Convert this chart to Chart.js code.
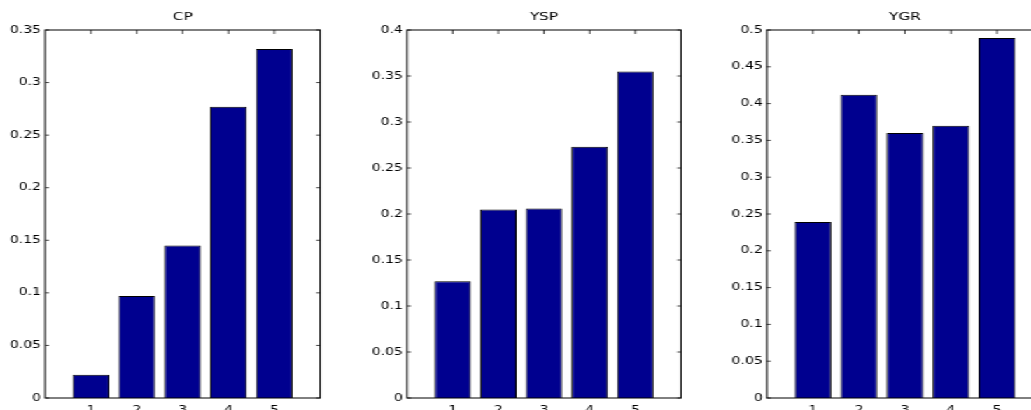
<!DOCTYPE html>
<html>
<head>
<meta charset="utf-8">
<script src="https://cdn.jsdelivr.net/npm/chart.js@4"></script>
<style>
  html, body { margin: 0; padding: 0; background: #fff; overflow: hidden; width: 1031px; height: 410px; }
  #stage { position: absolute; left: 0; top: 0; width: 800px; height: 440px; transform: scaleX(1.4); transform-origin: 0 0; }
  .panel { position: absolute; top: 0; height: 440px; }
</style>
</head>
<body>
<div id="stage"></div>
<script>
const xTicks = [1, 2, 3, 4, 5];
const titles = ["CP", "YSP", "YGR"];
const cpValues = [0.022, 0.097, 0.145, 0.277, 0.332];
const yspValues = [0.127, 0.205, 0.206, 0.273, 0.355];
const ygrValues = [0.239, 0.412, 0.36, 0.37, 0.489];
const yMaxes = [0.35, 0.4, 0.5];
const yStep = 0.05;

// the original figure is stretched sideways, so the stage is scaled in x
const S = 1.4;
const boxes = [[45, 320], [407, 681], [767, 1043]]; // plot box edges on screen
const TOP = 30, BOTTOM = 398, H = 440;
const font = { family: "DejaVu Sans", size: 10 };

const frame = {
  id: "frame",
  beforeDatasetsDraw(chart) {
    const { ctx, chartArea: a, scales: { x, y } } = chart;
    ctx.save();
    ctx.strokeStyle = "#444";
    ctx.lineWidth = 1;
    ctx.beginPath();
    x.ticks.forEach(t => {
      const px = x.getPixelForValue(t.value);
      ctx.moveTo(px, a.top); ctx.lineTo(px, a.top + 4);
      ctx.moveTo(px, a.bottom); ctx.lineTo(px, a.bottom - 4);
    });
    y.ticks.forEach(t => {
      const py = y.getPixelForValue(t.value);
      ctx.moveTo(a.left, py); ctx.lineTo(a.left + 2.8, py);
      ctx.moveTo(a.right, py); ctx.lineTo(a.right - 2.8, py);
    });
    ctx.stroke();
    ctx.restore();
  },
  afterDatasetsDraw(chart, args, opts) {
    const { ctx, chartArea: a } = chart;
    ctx.save();
    ctx.strokeStyle = "#000";
    ctx.lineWidth = 1;
    ctx.strokeRect(a.left, a.top, a.right - a.left, a.bottom - a.top);
    ctx.fillStyle = "#000";
    ctx.font = '11px "DejaVu Sans"';
    ctx.textAlign = "center";
    ctx.textBaseline = "middle";
    ctx.fillText(opts.title, (a.left + a.right) / 2, 17.5);
    ctx.restore();
  }
};

const stage = document.getElementById("stage");
const series = [cpValues, yspValues, ygrValues];

series.forEach((vals, i) => {
  const l = boxes[i][0] / S, r = boxes[i][1] / S;
  const cLeft = Math.floor(l - 30);
  const yw = l - cLeft;
  const cWidth = Math.ceil(r - cLeft + 2);
  const padR = cWidth - (r - cLeft);

  const div = document.createElement("div");
  div.className = "panel";
  div.style.left = cLeft + "px";
  div.style.width = cWidth + "px";
  const canvas = document.createElement("canvas");
  div.appendChild(canvas);
  stage.appendChild(div);

  new Chart(canvas, {
    type: "bar",
    data: {
      datasets: [{
        data: xTicks.map((x, j) => ({ x: x, y: vals[j] })),
        backgroundColor: "#00008F",
        borderColor: "#000",
        borderWidth: 1,
        barPercentage: 0.8,
        categoryPercentage: 1
      }]
    },
    options: {
      responsive: true,
      maintainAspectRatio: false,
      animation: false,
      layout: { padding: { top: TOP, right: padR, bottom: 0, left: 0 } },
      plugins: {
        legend: { display: false },
        tooltip: { enabled: false },
        frame: { title: titles[i] }
      },
      scales: {
        x: {
          type: "linear",
          min: 0,
          max: 6,
          offset: false,
          grid: { display: false, drawTicks: false, offset: false },
          border: { display: false },
          afterBuildTicks: s => { s.ticks = xTicks.map(v => ({ value: v })); },
          afterFit: s => { s.height = H - BOTTOM; },
          ticks: { padding: 6, color: "#000", font: font }
        },
        y: {
          min: 0,
          max: yMaxes[i],
          grid: { display: false, drawTicks: false },
          border: { display: false },
          afterFit: s => { s.width = yw; },
          ticks: {
            stepSize: yStep,
            padding: 3,
            color: "#000",
            font: font,
            callback: v => String(+v.toFixed(2))
          }
        }
      }
    },
    plugins: [frame]
  });
});
</script>
</body>
</html>
